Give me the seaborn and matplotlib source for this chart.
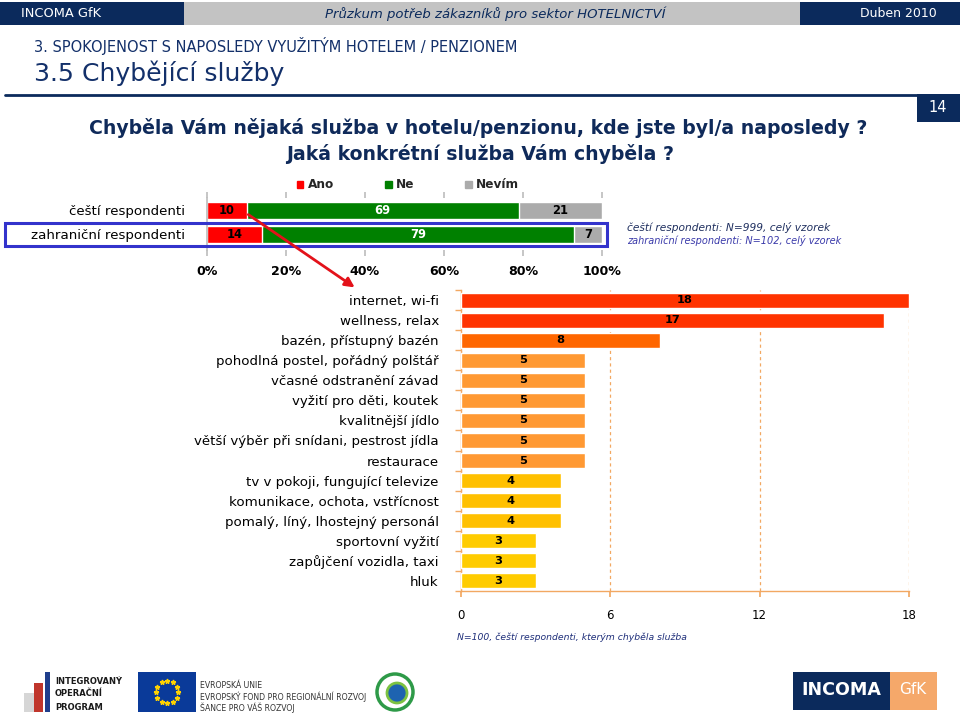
import numpy as np
import pandas as pd
import matplotlib
matplotlib.use("Agg")
import matplotlib.pyplot as plt
import seaborn as sns
from matplotlib.patches import Rectangle, Ellipse, FancyArrowPatch
from matplotlib.lines import Line2D

# ---------------- data ----------------
groups = ["čeští respondenti", "zahraniční respondenti"]
ano = [10, 14]
ne = [69, 79]
nevim = [21, 7]
legend_labels = ["Ano", "Ne", "Nevím"]
pct_ticks = [0, 20, 40, 60, 80, 100]

services = [
    "internet, wi-fi",
    "wellness, relax",
    "bazén, přístupný bazén",
    "pohodlná postel, pořádný polštář",
    "včasné odstranění závad",
    "vyžití pro děti, koutek",
    "kvalitnější jídlo",
    "větší výběr při snídani, pestrost jídla",
    "restaurace",
    "tv v pokoji, fungující televize",
    "komunikace, ochota, vstřícnost",
    "pomalý, líný, lhostejný personál",
    "sportovní vyžití",
    "zapůjčení vozidla, taxi",
    "hluk",
]
counts = [18, 17, 8, 5, 5, 5, 5, 5, 5, 4, 4, 4, 3, 3, 3]
count_ticks = [0, 6, 12, 18]

# ---------------- style ----------------
sns.set_theme(style="white")
plt.rcParams["font.family"] = ["DejaVu Sans"]

NAVY = "#0B2A5C"
TITLE_NAVY = "#13306A"
RED = "#FF0000"
GREEN = "#008000"
GRAY = "#ABABAB"
ORANGE_AX = "#F2A862"
bar_colors = (["#FF3300"] * 2 + ["#FF6600"] + ["#FF9933"] * 6 +
              ["#FFC000"] * 3 + ["#FFCC00"] * 3)

W, H = 960, 716
fig = plt.figure(figsize=(9.6, 7.16), dpi=100)
fig.patch.set_facecolor("white")
renderer = fig.canvas.get_renderer()


def fit(s, px, **kw):
    t = fig.text(0, 0, s, fontsize=10, **kw)
    w = t.get_window_extent(renderer=renderer).width
    t.remove()
    return 10.0 * px / w


def ftext(x, y, s, ha="left", va="center", **kw):
    return fig.text(x / W, 1 - y / H, s, ha=ha, va=va, **kw)


def frect(x0, y0, x1, y1, **kw):
    r = Rectangle((x0 / W, 1 - y1 / H), (x1 - x0) / W, (y1 - y0) / H,
                  transform=fig.transFigure, **kw)
    fig.add_artist(r)
    return r


# ---------------- header ----------------
frect(0, 2, 184, 25, color=NAVY, lw=0)
frect(184, 2, 800, 25, color="#C3C3C3", lw=0)
frect(800, 2, 960, 25, color=NAVY, lw=0)
ftext(21, 13.5, "INCOMA GfK", color="white",
      fontsize=fit("INCOMA GfK", 80))
hdr = "Průzkum potřeb zákazníků pro sektor HOTELNICTVÍ"
ftext(495, 13.5, hdr, ha="center", color=NAVY, style="italic",
      fontsize=fit(hdr, 339, style="italic"))
ftext(937, 13.5, "Duben 2010", ha="right", color="white",
      fontsize=fit("Duben 2010", 77))

s1 = "3. SPOKOJENOST S NAPOSLEDY VYUŽITÝM HOTELEM / PENZIONEM"
ftext(34, 46, s1, color=TITLE_NAVY, fontsize=fit(s1, 482))
s2 = "3.5 Chybějící služby"
ftext(34, 73, s2, color=TITLE_NAVY, fontsize=fit(s2, 251))
fig.add_artist(Line2D([5 / W, 917 / W], [1 - 95 / H] * 2, color=NAVY, lw=2,
                      transform=fig.transFigure))
frect(917, 94, 960, 122, color=NAVY, lw=0)
ftext(938, 108, "14", ha="center", color="white", fontsize=10.5)

q1 = "Chyběla Vám nějaká služba v hotelu/penzionu, kde jste byl/a naposledy ?"
q2 = "Jaká konkrétní služba Vám chyběla ?"
qs = fit(q1, 777, fontweight="bold")
ftext(478, 128, q1, ha="center", color="#0F2A5A", fontweight="bold", fontsize=qs)
ftext(480, 154, q2, ha="center", color="#0F2A5A", fontweight="bold", fontsize=qs)

# ---------------- top stacked bar ----------------
ax1 = fig.add_axes([207 / W, 1 - 250 / H, 395 / W, 52 / H])
df_top = pd.DataFrame({"group": groups, "ano": ano, "ne": ne, "nevim": nevim})
df_top["cum_ne"] = df_top["ano"] + df_top["ne"]
df_top["cum_all"] = df_top["cum_ne"] + df_top["nevim"]
sns.barplot(data=df_top, x="cum_all", y="group", color=GRAY, width=0.7,
            saturation=1, ax=ax1)
sns.barplot(data=df_top, x="cum_ne", y="group", color=GREEN, width=0.7,
            saturation=1, ax=ax1)
sns.barplot(data=df_top, x="ano", y="group", color=RED, width=0.7,
            saturation=1, ax=ax1)
if ax1.get_legend() is not None:
    ax1.get_legend().remove()
ax1.set_xlim(0, 100)
ax1.set_ylim(1.65, -0.52)
ax1.set_xlabel("")
ax1.set_ylabel("")
ax1.set_xticks(pct_ticks)
ax1.set_xticklabels([f"{t}%" for t in pct_ticks], fontweight="bold",
                    fontsize=fit("100%", 39, fontweight="bold"))
for sp in ["top", "right", "bottom"]:
    ax1.spines[sp].set_visible(False)
ax1.spines["left"].set_color("#BFBFBF")
ax1.tick_params(axis="x", bottom=True, top=True, direction="out", length=4,
                color="#BFBFBF", pad=7, labelcolor="black")
ax1.tick_params(axis="y", left=False, pad=10, labelcolor="black",
                labelsize=fit("zahraniční respondenti", 154))
lab_fs = fit("69", 16, fontweight="bold")
for i in range(len(groups)):
    ax1.text(ano[i] / 2, i, str(ano[i]), ha="center", va="center",
             fontweight="bold", fontsize=lab_fs, color="black")
    ax1.text(ano[i] + ne[i] / 2, i, str(ne[i]), ha="center", va="center",
             fontweight="bold", fontsize=lab_fs, color="white")
    ax1.text(ano[i] + ne[i] + nevim[i] / 2, i, str(nevim[i]), ha="center",
             va="center", fontweight="bold", fontsize=lab_fs, color="black")

handles = [Rectangle((0, 0), 1, 1, color=c) for c in (RED, GREEN, GRAY)]
leg = fig.legend(handles, legend_labels, loc="center",
                 bbox_to_anchor=(408 / W, 1 - 185 / H), ncol=3, frameon=False,
                 handlelength=0.55, handleheight=0.55, handletextpad=0.35,
                 columnspacing=4.2,
                 prop={"weight": "bold", "size": fit("Nevím", 43, fontweight="bold")})

# blue frame and notes
frect(5, 223, 607, 246, fill=False, edgecolor="#3333CC", lw=2.2)
n1 = "čeští respondenti: N=999, celý vzorek"
n2 = "zahraniční respondenti: N=102, celý vzorek"
ftext(627, 228, n1, color="#1F2F5F", style="italic",
      fontsize=fit(n1, 203, style="italic"))
ftext(627, 240, n2, color="#3A3AAA", style="italic",
      fontsize=fit(n2, 214, style="italic"))

# red arrow
fig.add_artist(FancyArrowPatch((246 / W, 1 - 213 / H), (357 / W, 1 - 289 / H),
                               transform=fig.transFigure, arrowstyle="-|>",
                               mutation_scale=14, color="#E3121A", lw=2))

# ---------------- bottom bar chart ----------------
ax2 = fig.add_axes([461 / W, 1 - 591 / H, 448 / W, 301 / H])
df = pd.DataFrame({"service": services, "count": counts})
sns.barplot(data=df, x="count", y="service", hue="service", palette=bar_colors,
            legend=False, width=0.75, saturation=1, ax=ax2, zorder=3)
ax2.set_xlim(0, 18)
ax2.set_ylim(14.5, -0.5)
ax2.set_xlabel("")
ax2.set_ylabel("")
ax2.set_xticks(count_ticks)
ax2.set_axisbelow(True)
ax2.xaxis.grid(True, linestyle=(0, (2.5, 2.5)), color=ORANGE_AX, lw=0.9)
ax2.yaxis.grid(False)
for sp in ["top", "right"]:
    ax2.spines[sp].set_visible(False)
for sp in ["left", "bottom"]:
    ax2.spines[sp].set_color(ORANGE_AX)
    ax2.spines[sp].set_linewidth(1.0)
ax2.set_yticks(np.arange(-0.5, len(services), 1), minor=True)
ax2.tick_params(axis="y", which="major", left=False, pad=10,
                labelsize=fit("větší výběr při snídani, pestrost jídla", 244),
                labelcolor="black")
ax2.tick_params(axis="y", which="minor", left=True, length=4,
                color=ORANGE_AX, direction="out")
ax2.tick_params(axis="x", bottom=True, length=4, color=ORANGE_AX,
                direction="out", pad=9, labelsize=fit("18", 15),
                labelcolor="black")
val_fs = fit("18", 16, fontweight="bold")
for c in ax2.containers:
    ax2.bar_label(c, label_type="center", fontweight="bold", fontsize=val_fs,
                  color="black")

fn = "N=100, čeští respondenti, kterým chyběla služba"
ftext(457, 637, fn, color="#1F2F7A", style="italic",
      fontsize=fit(fn, 229, style="italic"))

# ---------------- footer logos (approximate) ----------------
frect(24, 693, 34, 712, color="#D6D6D6", lw=0)
frect(34, 683, 43, 712, color="#C0362C", lw=0)
frect(45, 672, 50, 712, color="#1F3E8C", lw=0)
for k, t in enumerate(["INTEGROVANÝ", "OPERAČNÍ", "PROGRAM"]):
    ftext(55, 681 + k * 13, t, color="#1A1A1A", fontweight="bold", fontsize=6)
frect(138, 672, 196, 712, color="#0A3A99", lw=0)
ang = np.linspace(0, 2 * np.pi, 13)[:-1]
fig.add_artist(Line2D((167 + 11 * np.cos(ang)) / W, 1 - (692 + 11 * np.sin(ang)) / H,
                      ls="none", marker="*", ms=3.5, color="#FFD200",
                      transform=fig.transFigure))
for k, t in enumerate(["EVROPSKÁ UNIE", "EVROPSKÝ FOND PRO REGIONÁLNÍ ROZVOJ",
                       "ŠANCE PRO VÁŠ ROZVOJ"]):
    ftext(200, 686 + k * 11, t, color="#333333", fontsize=5.6)
fig.add_artist(Ellipse((395 / W, 1 - 692 / H), 36 / W, 36 / H,
                       transform=fig.transFigure, facecolor="white",
                       edgecolor="#2E9A48", lw=2.5))
fig.add_artist(Ellipse((397 / W, 1 - 693 / H), 20 / W, 20 / H,
                       transform=fig.transFigure, facecolor="#1E63B0",
                       edgecolor="#7CC242", lw=2))
frect(793, 672, 890, 710, color=NAVY, lw=0)
frect(890, 672, 937, 710, color="#F5A86A", lw=0)
ftext(841, 690, "INCOMA", ha="center", color="white", fontweight="bold",
      fontsize=fit("INCOMA", 80, fontweight="bold"))
ftext(913, 690, "GfK", ha="center", color="white", fontsize=11)

fig.savefig("out.png", dpi=100, facecolor="white")
